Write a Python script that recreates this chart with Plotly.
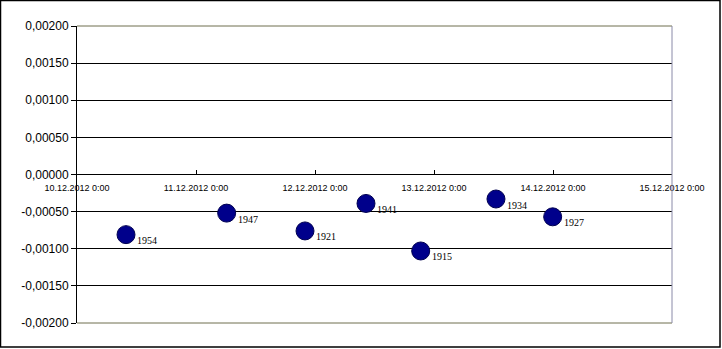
import plotly.graph_objects as go

# Data
times = ["2012-12-10 09:53", "2012-12-11 06:11", "2012-12-11 21:59", "2012-12-12 10:17",
         "2012-12-12 21:19", "2012-12-13 12:30", "2012-12-13 23:56"]
values = [-0.00081, -0.00052, -0.00076, -0.00039, -0.00103, -0.00033, -0.00057]
point_labels = ["1954", "1947", "1921", "1941", "1915", "1934", "1927"]

x_tickvals = ["2012-12-10", "2012-12-11", "2012-12-12", "2012-12-13", "2012-12-14", "2012-12-15"]
x_ticktext = ["10.12.2012 0:00", "11.12.2012 0:00", "12.12.2012 0:00", "13.12.2012 0:00",
              "14.12.2012 0:00", "15.12.2012 0:00"]
y_tickvals = [0.002, 0.0015, 0.001, 0.0005, 0.0, -0.0005, -0.001, -0.0015, -0.002]
y_ticktext = ["0,00200", "0,00150", "0,00100", "0,00050", "0,00000",
              "-0,00050", "-0,00100", "-0,00150", "-0,00200"]

W, H = 722, 349
L, R, T, B = 77, 50, 26, 26
pw, ph = W - L - R, H - T - B

fig = go.Figure()
fig.add_trace(go.Scatter(
    x=times, y=values, mode="markers",
    marker=dict(size=18, color="#00008B", line=dict(color="#000050", width=1)),
    hoverinfo="skip", showlegend=False, cliponaxis=False,
))

annotations = []
for t, v, lab in zip(times, values, point_labels):
    annotations.append(dict(
        x=t, y=v, xref="x", yref="y", text=lab, showarrow=False,
        xanchor="left", yanchor="middle", xshift=9, yshift=-6,
        font=dict(family="Liberation Serif", size=10, color="black"),
    ))

shapes = [
    # plot area top/bottom/right borders
    dict(type="line", xref="paper", yref="paper", x0=0, x1=1, y0=1, y1=1,
         line=dict(color="#6f6f4f", width=1)),
    dict(type="line", xref="paper", yref="paper", x0=0, x1=1, y0=0, y1=0,
         line=dict(color="#6f6f4f", width=1)),
    dict(type="line", xref="paper", yref="paper", x0=1, x1=1, y0=0, y1=1,
         line=dict(color="#8a8aa8", width=1)),
    # outer chart border
    dict(type="rect", xref="paper", yref="paper",
         x0=(0.5 - L) / pw, x1=(720 - L) / pw,
         y0=(H - B - 347) / ph, y1=(H - B - 0.5) / ph,
         line=dict(color="black", width=1.5), layer="above"),
]

fig.update_layout(
    width=W, height=H,
    margin=dict(l=L, r=R, t=T, b=B),
    paper_bgcolor="white", plot_bgcolor="white",
    font=dict(family="Liberation Sans", color="black"),
    xaxis=dict(
        type="date", range=["2012-12-10", "2012-12-15"],
        tickvals=x_tickvals, ticktext=x_ticktext,
        tickfont=dict(family="Liberation Sans", size=9, color="black"),
        anchor="free", position=0.5,
        showline=False,
        ticks="inside", ticklen=5, tickcolor="black",
        ticklabelstandoff=6,
        showgrid=False, zeroline=False, fixedrange=True,
    ),
    yaxis=dict(
        range=[-0.002, 0.002],
        tickvals=y_tickvals, ticktext=y_ticktext,
        tickfont=dict(family="Liberation Sans", size=12, color="black"),
        showline=True, linecolor="black", linewidth=1,
        ticks="outside", ticklen=5, tickcolor="black",
        showgrid=True, gridcolor="black", gridwidth=1,
        zeroline=False, fixedrange=True,
    ),
    annotations=annotations,
    shapes=shapes,
)

fig.write_html("out.html")
